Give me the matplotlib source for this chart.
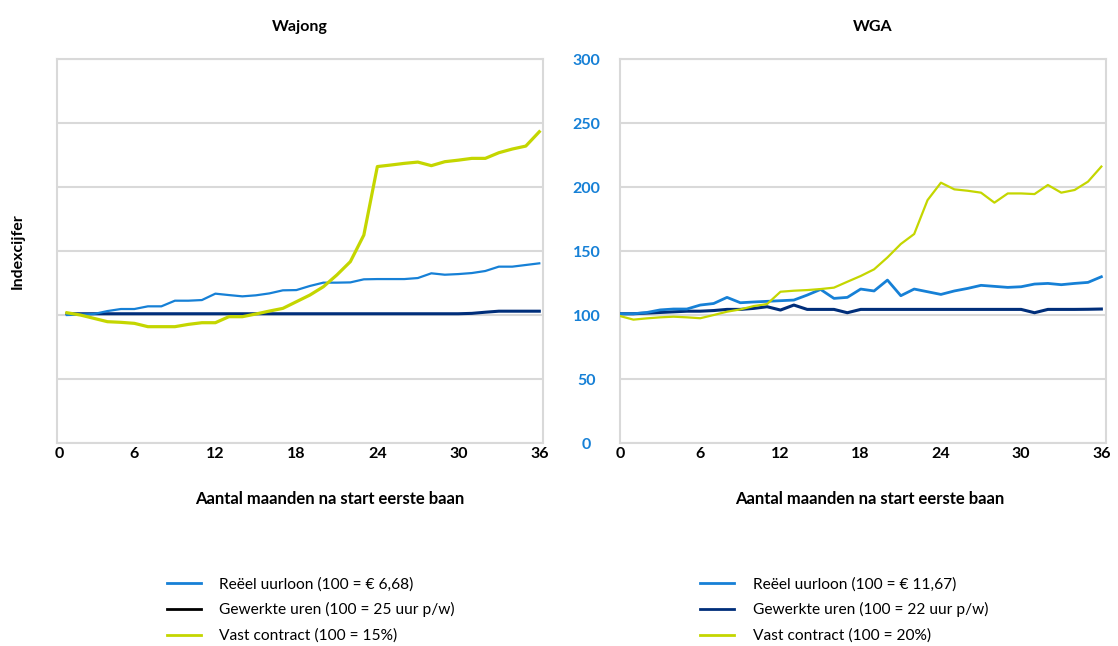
import matplotlib
matplotlib.use('Agg')
import matplotlib.pyplot as plt
from matplotlib.lines import Line2D
import numpy as np

plt.rcParams['font.family'] = ['Lato', 'DejaVu Sans']

# kleuren
LICHTBLAUW = '#1680d6'
DONKERBLAUW = '#002e7a'
GROEN = '#c4d600'
GRIJS = '#d9d9d9'

# Wajong: maanden 1..36
maanden_wajong = np.arange(1, 37)
wajong_loon = [100, 100.3, 100.8, 103.1, 104.7, 104.7, 106.8, 106.8, 111.2, 111.2,
               111.7, 116.7, 115.6, 114.6, 115.4, 116.9, 119.3, 119.5, 122.7, 125.3,
               125.3, 125.5, 127.9, 128.1, 128.1, 128.1, 128.9, 132.6, 131.5, 132,
               132.8, 134.4, 137.8, 137.8, 139.1, 140.4]
wajong_uren = [101, 101, 101, 101, 101, 101, 101, 101, 101, 101,
               101, 101, 101, 101, 101, 101, 101, 101, 101, 101,
               101, 101, 101, 101, 101, 101, 101, 101, 101, 101,
               101.3, 102.2, 103, 103, 103, 103]
wajong_contract = [101.8, 100, 97.4, 94.8, 94.3, 93.5, 90.9, 90.9, 90.9, 92.7,
                   94, 94, 98.7, 98.7, 100.8, 103.1, 105.2, 110.4, 115.6, 122.1,
                   131.3, 141.7, 162.5, 216, 217.2, 218.5, 219.5, 216.7, 219.8, 221,
                   222.4, 222.4, 226.8, 229.7, 232, 243.2]

# WGA: maanden 0..36
maanden_wga = np.arange(0, 37)
wga_loon = [101, 101, 102, 104, 104.7, 104.7, 107.8, 109, 113.8, 109.6,
            110.2, 110.7, 111.2, 111.7, 115.6, 120, 113, 113.8, 120.3, 118.8,
            127.3, 115.1, 120.3, 118.2, 116.1, 118.8, 120.8, 123.2, 122.4, 121.6,
            122.1, 124.2, 124.7, 123.7, 124.7, 125.5, 129.9]
wga_uren = [101, 101, 101.5, 102, 102.5, 103, 103, 103.5, 104.4, 104.4,
            105.2, 106.5, 103.9, 107.8, 104.4, 104.4, 104.4, 101.8, 104.4, 104.4,
            104.4, 104.4, 104.4, 104.4, 104.4, 104.4, 104.4, 104.4, 104.4, 104.4,
            104.4, 101.8, 104.4, 104.4, 104.4, 104.5, 104.7]
wga_contract = [99.2, 96.4, 97.4, 98.2, 98.7, 98.2, 97.5, 100, 102.6, 104.4,
                107, 108.6, 118.2, 119, 119.5, 120.3, 121.4, 126, 130.5, 135.7,
                145, 155.5, 163.3, 189.8, 203.4, 198.2, 197.1, 195.6, 187.8, 195,
                195, 194.5, 201.6, 195.6, 197.7, 204.2, 216]

xticks = [0, 6, 12, 18, 24, 30, 36]
yticks = [0, 50, 100, 150, 200, 250, 300]

labels_wajong = ['Reëel uurloon (100 = € 6,68)', 'Gewerkte uren (100 = 25 uur p/w)',
                 'Vast contract (100 = 15%)']
labels_wga = ['Reëel uurloon (100 = € 11,67)', 'Gewerkte uren (100 = 22 uur p/w)',
              'Vast contract (100 = 20%)']

fig = plt.figure(figsize=(11.18, 6.46), dpi=100)
ax1 = fig.add_axes([0.0514, 0.3142, 0.434, 0.5944])
ax2 = fig.add_axes([0.5546, 0.3142, 0.4347, 0.5944])


def opmaak(ax, titel, titel_x, label_x):
    ax.set_ylim(0, 300)
    ax.set_yticks(yticks)
    ax.grid(axis='y', color=GRIJS, linewidth=1.5, zorder=0)
    ax.set_axisbelow(True)
    for s in ax.spines.values():
        s.set_color(GRIJS)
        s.set_linewidth(1.5)
    ax.tick_params(length=0)
    ax.tick_params(axis='x', pad=3, labelsize=11.5)
    for lab in ax.get_xticklabels():
        lab.set_fontweight('bold')
    ax.set_title(titel, fontsize=11.5, fontweight='bold', pad=20, x=titel_x)
    ax.set_xlabel('Aantal maanden na start eerste baan', fontsize=12,
                  fontweight='bold')
    ax.xaxis.set_label_coords(label_x, -0.125)


# Wajong
ax1.plot(maanden_wajong, wajong_uren, color=DONKERBLAUW, lw=2.2, zorder=3)
ax1.plot(maanden_wajong, wajong_loon, color=LICHTBLAUW, lw=1.6, zorder=4)
ax1.plot(maanden_wajong, wajong_contract, color=GROEN, lw=2.3, zorder=5)
ax1.set_xlim(0.3, 36.25)
ax1.set_xticks([0.4] + xticks[1:])
ax1.set_xticklabels([str(t) for t in xticks])
ax1.set_yticklabels([])
ax1.set_ylabel('Indexcijfer', fontsize=11.5, fontweight='bold')
ax1.yaxis.set_label_coords(-0.067, 0.5)
opmaak(ax1, 'Wajong', 0.5, 0.562)

# WGA
ax2.plot(maanden_wga, wga_uren, color=DONKERBLAUW, lw=2.2, zorder=3)
ax2.plot(maanden_wga, wga_loon, color=LICHTBLAUW, lw=2.0, zorder=4)
ax2.plot(maanden_wga, wga_contract, color=GROEN, lw=1.6, zorder=5)
ax2.set_xlim(0, 36.35)
ax2.set_xticks(xticks)
ax2.set_xticklabels([str(t) for t in xticks])
ax2.tick_params(axis='y', pad=24, labelsize=11.5, labelcolor=LICHTBLAUW)
for lab in ax2.get_yticklabels():
    lab.set_fontweight('bold')
    lab.set_ha('center')
opmaak(ax2, 'WGA', 0.519, 0.514)

# legendas
h1 = [Line2D([], [], color=LICHTBLAUW, lw=2),
      Line2D([], [], color='black', lw=2),
      Line2D([], [], color=GROEN, lw=2)]
h2 = [Line2D([], [], color=LICHTBLAUW, lw=2),
      Line2D([], [], color=DONKERBLAUW, lw=2),
      Line2D([], [], color=GROEN, lw=2)]
for handles, labels, x in [(h1, labels_wajong, 0.149), (h2, labels_wga, 0.626)]:
    fig.legend(handles, labels, loc='upper left', bbox_to_anchor=(x, 0.107),
               frameon=False, fontsize=11.2, handlelength=2.2, handletextpad=1.2,
               labelspacing=0.72, borderpad=0, borderaxespad=0)

fig.savefig('out.png', dpi=100)
